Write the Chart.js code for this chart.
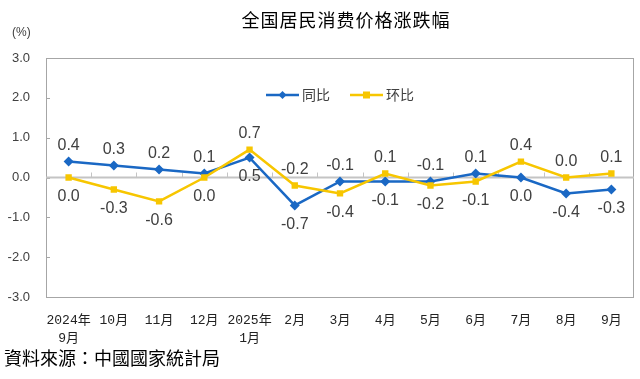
<!DOCTYPE html>
<html>
<head>
<meta charset="utf-8">
<script src="https://cdn.jsdelivr.net/npm/chart.js@4.4.1/dist/chart.umd.min.js"></script>
<style>
  html, body { margin: 0; padding: 0; background: #fff; }
  #wrap { width: 640px; height: 379px; position: relative; }
</style>
</head>
<body>
<div id="wrap"><canvas id="c" width="640" height="379"></canvas></div>
<script>
const titleText = "全国居民消费价格涨跌幅";
const unitText = "(%)";
const sourceText = "資料來源：中國國家統計局";
const categories = [["2024年", "9月"], "10月", "11月", "12月", ["2025年", "1月"], "2月", "3月", "4月", "5月", "6月", "7月", "8月", "9月"];
const seriesNames = ["同比", "环比"];
const yoyValues = [0.4, 0.3, 0.2, 0.1, 0.5, -0.7, -0.1, -0.1, -0.1, 0.1, 0.0, -0.4, -0.3];
const momValues = [0.0, -0.3, -0.6, 0.0, 0.7, -0.2, -0.4, 0.1, -0.2, -0.1, 0.4, 0.0, 0.1];
const yMin = -3, yMax = 3, yStep = 1;

const BLUE = "#1a68c4";
const YELLOW = "#f7c600";
const GRAY_TEXT = "#404040";
const CJK = '"Noto Sans CJK SC", "Noto Sans", sans-serif';

const decorPlugin = {
  id: "decor",
  beforeDatasetsDraw(chart) {
    const { ctx, chartArea: a, scales } = chart;
    const x = scales.x, y = scales.y;
    ctx.save();
    ctx.strokeStyle = "#a6a6a6";
    ctx.lineWidth = 1;
    ctx.strokeRect(Math.round(a.left) + 0.5, Math.round(a.top) + 0.5, Math.round(a.right - a.left) - 1, Math.round(a.bottom - a.top));
    y.ticks.forEach(t => {
      const py = Math.round(y.getPixelForValue(t.value)) + 0.5;
      ctx.beginPath();
      ctx.moveTo(a.left, py);
      ctx.lineTo(a.left + 4, py);
      ctx.stroke();
    });
    const y0 = y.getPixelForValue(0);
    ctx.strokeStyle = "#c4c4c4";
    ctx.lineWidth = 2;
    ctx.beginPath();
    ctx.moveTo(a.left, y0);
    ctx.lineTo(a.right, y0);
    ctx.stroke();
    ctx.lineWidth = 1;
    const n = categories.length;
    for (let i = 1; i < n; i++) {
      const px = Math.round((x.getPixelForValue(i - 1) + x.getPixelForValue(i)) / 2) + 0.5;
      ctx.beginPath();
      ctx.moveTo(px, y0 - 5);
      ctx.lineTo(px, y0);
      ctx.stroke();
    }
    ctx.restore();
  },
  afterDatasetsDraw(chart) {
    const { ctx, chartArea: a } = chart;
    ctx.save();
    ctx.font = '16px "Liberation Sans", Arial, sans-serif';
    ctx.fillStyle = GRAY_TEXT;
    ctx.textAlign = "center";
    ctx.textBaseline = "middle";
    const ds = chart.data.datasets;
    for (let i = 0; i < categories.length; i++) {
      ds.forEach((d, di) => {
        const other = ds[1 - di].data[i];
        const v = d.data[i];
        const above = v > other || (v === other && di === 0);
        const el = chart.getDatasetMeta(di).data[i];
        const ly = above ? el.y - 16 : el.y + 19;
        ctx.fillText(v.toFixed(1), el.x, ly);
      });
    }
    ctx.font = "14px " + CJK;
    ctx.textAlign = "left";
    const lineLen = 33, gapText = 3, gapItem = 20;
    const widths = ds.map(d => ctx.measureText(d.label).width);
    const total = ds.reduce((s, d, i) => s + lineLen + gapText + widths[i], 0) + gapItem * (ds.length - 1);
    let lx = (a.left + a.right) / 2 - total / 2;
    const ly = 95;
    ds.forEach((d, i) => {
      ctx.strokeStyle = d.borderColor;
      ctx.lineWidth = 2.5;
      ctx.beginPath();
      ctx.moveTo(lx, ly);
      ctx.lineTo(lx + lineLen, ly);
      ctx.stroke();
      ctx.fillStyle = d.borderColor;
      const cx = lx + lineLen / 2;
      if (d.pointStyle === "rectRot") {
        ctx.beginPath();
        ctx.moveTo(cx, ly - 4); ctx.lineTo(cx + 4, ly); ctx.lineTo(cx, ly + 4); ctx.lineTo(cx - 4, ly);
        ctx.closePath(); ctx.fill();
      } else {
        ctx.fillRect(cx - 3.5, ly - 3.5, 7, 7);
      }
      ctx.fillStyle = GRAY_TEXT;
      ctx.fillText(d.label, lx + lineLen + gapText, ly);
      lx += lineLen + gapText + widths[i] + gapItem;
    });
    ctx.restore();
  },
  afterDraw(chart) {
    const { ctx } = chart;
    ctx.save();
    ctx.textBaseline = "middle";
    ctx.fillStyle = "#000";
    ctx.font = "18px " + CJK;
    ctx.textAlign = "center";
    if (ctx.letterSpacing !== undefined) ctx.letterSpacing = "1px";
    ctx.fillText(titleText, 346, 20);
    if (ctx.letterSpacing !== undefined) ctx.letterSpacing = "0px";
    ctx.textAlign = "left";
    ctx.font = '18px "Noto Sans CJK TC", "Noto Sans CJK SC", sans-serif';
    ctx.fillText(sourceText, 4, 358);
    ctx.fillStyle = GRAY_TEXT;
    ctx.font = '12px "Liberation Sans", Arial, sans-serif';
    ctx.fillText(unitText, 12, 33);
    ctx.restore();
  }
};

new Chart(document.getElementById("c"), {
  type: "line",
  data: {
    labels: categories,
    datasets: [
      {
        label: seriesNames[0],
        data: yoyValues,
        borderColor: BLUE,
        backgroundColor: BLUE,
        borderWidth: 2.5,
        pointStyle: "rectRot",
        pointRadius: 5,
        pointBorderWidth: 0,
        tension: 0,
        order: 1
      },
      {
        label: seriesNames[1],
        data: momValues,
        borderColor: YELLOW,
        backgroundColor: YELLOW,
        borderWidth: 2.5,
        pointStyle: "rect",
        pointRadius: 4.5,
        pointBorderWidth: 0,
        tension: 0,
        order: 0
      }
    ]
  },
  options: {
    responsive: false,
    animation: false,
    devicePixelRatio: 1,
    layout: { padding: { top: 58, right: 6, left: 0, bottom: 0 } },
    plugins: { legend: { display: false }, title: { display: false }, tooltip: { enabled: false } },
    scales: {
      x: {
        type: "category",
        offset: true,
        grid: { display: false, drawTicks: false, tickLength: 0 },
        border: { display: false },
        ticks: {
          autoSkip: false,
          maxRotation: 0,
          minRotation: 0,
          padding: 14,
          color: "#222",
          font: { family: '"Liberation Mono", "Noto Sans CJK SC", monospace', size: 13, lineHeight: 1.4 }
        },
        afterFit(s) { s.height = 82; }
      },
      y: {
        min: yMin,
        max: yMax,
        grid: { display: false, drawTicks: false, tickLength: 0 },
        border: { display: false },
        ticks: {
          stepSize: yStep,
          padding: 16,
          color: GRAY_TEXT,
          font: { family: '"Liberation Sans", Arial, sans-serif', size: 13 },
          callback: v => Number(v).toFixed(1)
        },
        afterFit(s) { s.width = 46; }
      }
    }
  },
  plugins: [decorPlugin]
});
</script>
</body>
</html>
